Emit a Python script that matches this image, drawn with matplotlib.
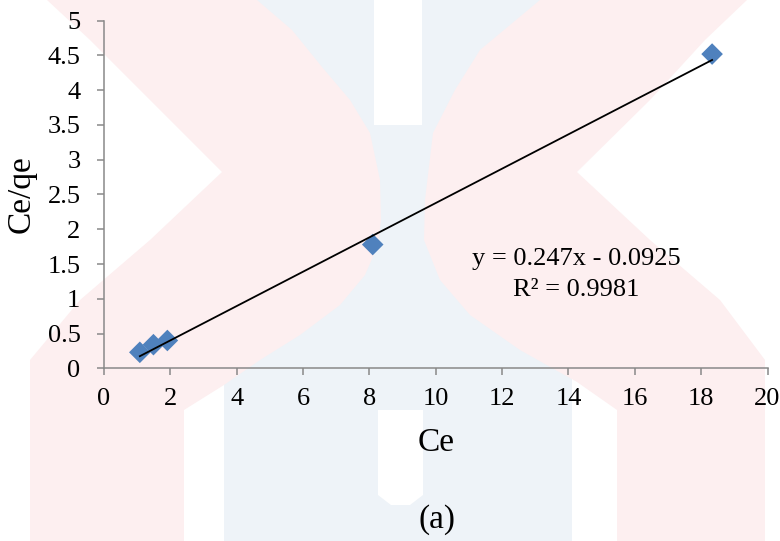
import numpy as np
import matplotlib.pyplot as plt
from matplotlib.patches import Polygon

plt.rcParams['font.family'] = ['Liberation Serif', 'DejaVu Serif']

# Langmuir linearised data
ce = [1.08, 1.49, 1.91, 8.10, 18.33]
ce_qe = [0.23, 0.34, 0.40, 1.78, 4.52]

# trendline as reported
slope = 0.247
intercept = -0.0925
r2 = 0.9981

x_ticks = [0, 2, 4, 6, 8, 10, 12, 14, 16, 18, 20]
y_ticks = [0, 0.5, 1, 1.5, 2, 2.5, 3, 3.5, 4, 4.5, 5]
y_tick_labels = ['0', '0.5', '1', '1.5', '2', '2.5', '3', '3.5', '4', '4.5', '5']

W, H = 780, 541
fig = plt.figure(figsize=(W / 100, H / 100), dpi=100)

# faint background logo shapes (pixel coords, y measured from top)
pink = '#fdeff0'
blue = '#eef3f8'
blue_band = [(224, 0), (572, 0), (572, 541), (224, 541)]
white_top = [(374, 0), (422, 0), (422, 125), (374, 125)]
white_low = [(378, 410), (423, 410), (423, 495), (410, 505), (391, 505), (378, 495)]
white_left = [(184, 410), (224, 400), (224, 541), (184, 541)]
white_right = [(572, 400), (617, 410), (617, 541), (572, 541)]
pink_left = [(47, 0), (257, 0), (292, 30), (322, 67), (350, 100), (370, 133),
             (380, 180), (381, 220), (378, 245), (365, 275), (340, 305),
             (300, 335), (260, 360), (224, 385), (184, 410), (184, 541),
             (30, 541), (30, 360), (80, 300), (150, 240), (222, 172),
             (150, 100), (90, 40)]
pink_right = [(540, 0), (747, 0), (705, 40), (650, 100), (577, 172),
              (650, 240), (720, 300), (765, 360), (765, 541), (617, 541),
              (617, 410), (577, 382), (520, 350), (470, 315), (440, 280),
              (424, 240), (425, 200), (433, 133), (455, 90), (480, 50)]


def to_fig(pts):
    return [(x / W, 1 - y / H) for x, y in pts]


for pts, col in [(blue_band, blue), (white_top, 'white'), (white_low, 'white'),
                 (white_left, 'white'), (white_right, 'white'),
                 (pink_left, pink), (pink_right, pink)]:
    fig.add_artist(Polygon(to_fig(pts), closed=True, facecolor=col,
                           edgecolor='none', zorder=-10))

ax = fig.add_axes([104 / W, 1 - 368.3 / H, 663.5 / W, 347.6 / H])
ax.patch.set_alpha(0)

ax.scatter(ce, ce_qe, marker='D', s=11 ** 2, color='#4F81BD',
           edgecolors='none', zorder=3)

fit_x = np.array([min(ce), max(ce)])
ax.plot(fit_x, slope * fit_x + intercept, color='black', linewidth=1.3, zorder=4)

ax.text(14.23, 1.57, f'y = {slope}x - {abs(intercept)}', ha='center', va='center',
        fontsize=19)
ax.text(14.23, 1.125, f'R² = {r2}', ha='center', va='center', fontsize=19)

ax.set_xlim(0, 20)
ax.set_ylim(0, 5)
ax.set_xticks(x_ticks)
ax.set_yticks(y_ticks)
ax.set_yticklabels(y_tick_labels)

for side in ['top', 'right']:
    ax.spines[side].set_visible(False)
for side in ['left', 'bottom']:
    ax.spines[side].set_color('#898989')
    ax.spines[side].set_linewidth(1.1)

ax.tick_params(axis='both', direction='out', length=5, width=1.1,
               color='#898989', labelsize=19, labelcolor='black')
ax.tick_params(axis='y', pad=12)
ax.tick_params(axis='x', pad=9)

ax.set_xlabel('Ce', fontsize=24)
ax.xaxis.label.set_va('center')
ax.xaxis.set_label_coords(0.5, -0.215)
ax.set_ylabel('Ce/qe', fontsize=24)
ax.yaxis.label.set_va('center')
ax.yaxis.set_label_coords(-0.124, 0.5)

fig.text(437 / W, 1 - 520 / H, '(a)', ha='center', va='center', fontsize=24)

plt.savefig('out.png', dpi=100)
